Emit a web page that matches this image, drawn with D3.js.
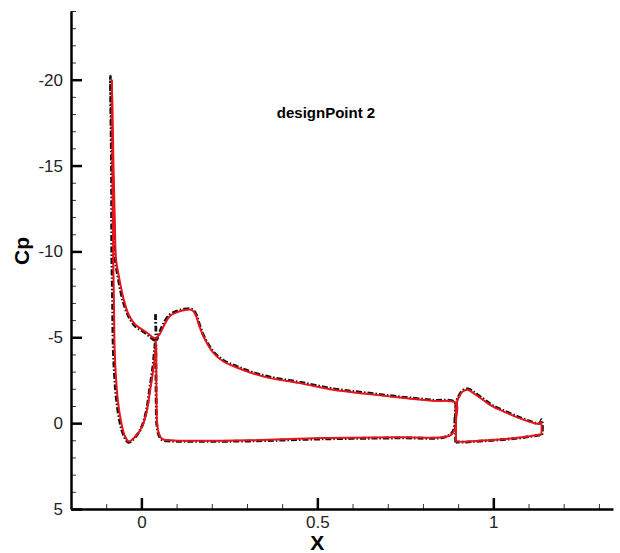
<!DOCTYPE html>
<html>
<head>
<meta charset="utf-8">
<script src="https://cdn.jsdelivr.net/npm/d3@7/dist/d3.min.js"></script>
<style>
  html, body { margin: 0; padding: 0; background: #fff; }
  svg { display: block; }
  text { font-family: "Liberation Sans", Arial, Helvetica, sans-serif; }
</style>
</head>
<body>
<svg id="chart" width="620" height="553"></svg>
<script>
// ---------------- data ----------------
const title = "designPoint 2";
const xLabel = "X";
const yLabel = "Cp";
const xTicks = [0, 0.5, 1];
const xTickLabels = ["0", "0.5", "1"];
const yTicks = [-20, -15, -10, -5, 0, 5];
const yTickLabels = ["-20", "-15", "-10", "-5", "0", "5"];

// Computed (red) — slat loop
const slatRedX  = [0.040, 0.030, 0.011, -0.017, -0.036, -0.050, -0.064, -0.072, -0.075, -0.079, -0.0836,
                   -0.082, -0.080, -0.078, -0.076, -0.072, -0.067, -0.057, -0.047, -0.036, -0.017, 0.002, 0.016, 0.025, 0.035, 0.040, 0.041];
const slatRedCp = [-4.92, -5.03, -5.34, -5.73, -6.31, -7.19, -8.55, -9.52, -11.3, -14.8, -20.0,
                   -14.8, -9.5, -7.2, -4.3, -2.6, -1.36, -0.02, 0.74, 1.07, 0.78, 0.20, -0.78, -1.94, -3.30, -4.27, -4.86];
// Computed (red) — main element loop
const mainRedX  = [0.041, 0.054, 0.068, 0.082, 0.101, 0.120, 0.139, 0.148, 0.156, 0.162, 0.172, 0.186, 0.205, 0.233, 0.271, 0.309, 0.365, 0.450, 0.545, 0.639, 0.734, 0.828, 0.894,
                   0.894, 0.890, 0.880, 0.856, 0.734, 0.516, 0.309, 0.167, 0.082, 0.059, 0.050, 0.045, 0.043, 0.042];
const mainRedCp = [-4.92, -5.25, -5.83, -6.26, -6.45, -6.57, -6.61, -6.51, -6.22, -5.83, -5.25, -4.66, -4.08, -3.59, -3.24, -2.95, -2.62, -2.33, -1.94, -1.71, -1.49, -1.30, -1.17,
                   -0.19, 0.39, 0.68, 0.82, 0.82, 0.87, 1.00, 1.03, 1.00, 0.92, 0.62, 0.10, -1.36, -4.56];
// Computed (red) — flap loop
const flapRedX  = [0.894, 0.894, 0.895, 0.901, 0.913, 0.927, 0.941, 0.970, 0.998, 1.036, 1.074, 1.102, 1.130, 1.135, 1.135,
                   1.130, 1.083, 1.036, 0.989, 0.941, 0.913, 0.899, 0.894];
const flapRedCp = [1.07, -0.19, -1.07, -1.48, -1.84, -1.94, -1.78, -1.36, -0.97, -0.62, -0.29, -0.09, 0.04, -0.05, 0.68,
                   0.68, 0.82, 0.92, 0.99, 1.05, 1.09, 1.07, 1.07];

// Reference (black dash-dot) — slat loop
const slatBlkX  = [0.039, 0.029, 0.010, -0.018, -0.037, -0.052, -0.066, -0.074, -0.078, -0.082, -0.088,
                   -0.085, -0.084, -0.082, -0.080, -0.076, -0.071, -0.061, -0.050, -0.037, -0.019, 0.000, 0.014, 0.023, 0.033, 0.038, 0.040];
const slatBlkCp = [-4.80, -4.95, -5.27, -5.66, -6.25, -7.10, -8.45, -9.50, -11.4, -15.0, -20.2,
                   -15.0, -9.6, -7.3, -4.4, -2.7, -1.40, -0.05, 0.72, 1.12, 0.85, 0.25, -0.70, -1.90, -3.35, -4.40, -4.80];
// Reference (black dash-dot) — main element loop
const mainBlkX  = [0.040, 0.041, 0.043, 0.052, 0.067, 0.082, 0.101, 0.120, 0.139, 0.149, 0.157, 0.163, 0.173, 0.187, 0.206, 0.234, 0.272, 0.310, 0.366, 0.451, 0.546, 0.640, 0.735, 0.829, 0.890,
                   0.891, 0.888, 0.878, 0.855, 0.733, 0.515, 0.308, 0.166, 0.081, 0.058, 0.049, 0.044, 0.042, 0.041];
const mainBlkCp = [-6.35, -5.60, -4.85, -5.30, -5.95, -6.33, -6.52, -6.63, -6.66, -6.55, -6.26, -5.87, -5.28, -4.70, -4.12, -3.64, -3.30, -3.00, -2.68, -2.38, -2.00, -1.76, -1.53, -1.34, -1.22,
                   -0.25, 0.35, 0.66, 0.84, 0.86, 0.92, 1.04, 1.06, 1.04, 0.96, 0.66, 0.12, -1.40, -4.60];
// Reference (black dash-dot) — flap loop
const flapBlkX  = [0.893, 0.892, 0.894, 0.901, 0.913, 0.928, 0.942, 0.971, 0.999, 1.037, 1.075, 1.103, 1.131, 1.137, 1.137,
                   1.131, 1.084, 1.037, 0.990, 0.942, 0.913, 0.898, 0.893];
const flapBlkCp = [1.12, -0.15, -1.10, -1.55, -1.90, -2.00, -1.85, -1.42, -1.02, -0.66, -0.33, -0.12, 0.02, -0.20, 0.70,
                   0.70, 0.84, 0.94, 1.01, 1.07, 1.11, 1.10, 1.12];

// ---------------- chart ----------------
const W = 620, H = 553;
const margin = {left: 71, right: 7, top: 11, bottom: 44};
const svg = d3.select("#chart");

const x = d3.scaleLinear().domain([-0.2, 1.34]).range([margin.left, W - margin.right]);
const y = d3.scaleLinear().domain([5, -24]).range([H - margin.bottom, margin.top]);

const zip = (xs, ys) => xs.map((v, i) => [v, ys[i]]);
const line = d3.line().x(d => x(d[0])).y(d => y(d[1])).curve(d3.curveCatmullRom.alpha(0.5));

const blackSeries = [zip(slatBlkX, slatBlkCp), zip(mainBlkX, mainBlkCp), zip(flapBlkX, flapBlkCp)];
const redSeries = [zip(slatRedX, slatRedCp), zip(mainRedX, mainRedCp), zip(flapRedX, flapRedCp)];

svg.append("g").selectAll("path").data(blackSeries).join("path")
  .attr("d", line).attr("fill", "none").attr("stroke", "#111")
  .attr("stroke-width", 2.8).attr("stroke-dasharray", "6,2,1.5,2")
  .attr("stroke-linejoin", "round");

svg.append("g").selectAll("path").data(redSeries).join("path")
  .attr("d", line).attr("fill", "none").attr("stroke", "#e8141b")
  .attr("stroke-width", 2).attr("stroke-linejoin", "round");

// minor ticks
const xMinor = d3.range(-0.1, 1.34, 0.1).filter(v => Math.abs(v * 2 - Math.round(v * 2)) > 1e-6);
const yMinor = d3.range(-24, 5, 1).filter(v => v % 5 !== 0);

const gxMinor = svg.append("g").attr("transform", `translate(0,${H - margin.bottom})`)
  .call(d3.axisBottom(x).tickValues(xMinor).tickSizeInner(-5).tickSizeOuter(0).tickFormat(""));
gxMinor.select(".domain").remove();
gxMinor.selectAll("line").attr("stroke", "#333").attr("stroke-width", 1);

const gyMinor = svg.append("g").attr("transform", `translate(${margin.left},0)`)
  .call(d3.axisLeft(y).tickValues(yMinor).tickSizeInner(-5).tickSizeOuter(0).tickFormat(""));
gyMinor.select(".domain").remove();
gyMinor.selectAll("line").attr("stroke", "#333").attr("stroke-width", 1);

// major axes
const gx = svg.append("g").attr("transform", `translate(0,${H - margin.bottom})`)
  .call(d3.axisBottom(x).tickValues(xTicks).tickSizeInner(-11).tickSizeOuter(0).tickPadding(7)
        .tickFormat((d, i) => xTickLabels[i]));
gx.select(".domain").attr("stroke", "#000").attr("stroke-width", 2.5);
gx.selectAll(".tick line").attr("stroke", "#000").attr("stroke-width", 2.5);
gx.selectAll("text").attr("font-size", 17).attr("fill", "#222");

const gy = svg.append("g").attr("transform", `translate(${margin.left},0)`)
  .call(d3.axisLeft(y).tickValues(yTicks).tickSizeInner(-11).tickSizeOuter(0).tickPadding(8)
        .tickFormat((d, i) => yTickLabels[i]));
gy.select(".domain").attr("stroke", "#000").attr("stroke-width", 2.5);
gy.selectAll(".tick line").attr("stroke", "#000").attr("stroke-width", 2.5);
gy.selectAll("text").attr("font-size", 17).attr("fill", "#222");

// labels
svg.append("text").attr("x", x(0.5)).attr("y", 550).attr("text-anchor", "middle")
  .attr("font-size", 21).attr("font-weight", "bold").text(xLabel);
svg.append("text").attr("transform", `translate(29,251) rotate(-90)`).attr("text-anchor", "middle")
  .attr("font-size", 21).attr("font-weight", "bold").text(yLabel);
svg.append("text").attr("x", 326).attr("y", 118).attr("text-anchor", "middle")
  .attr("font-size", 15).attr("font-weight", "bold").text(title);
</script>
</body>
</html>
